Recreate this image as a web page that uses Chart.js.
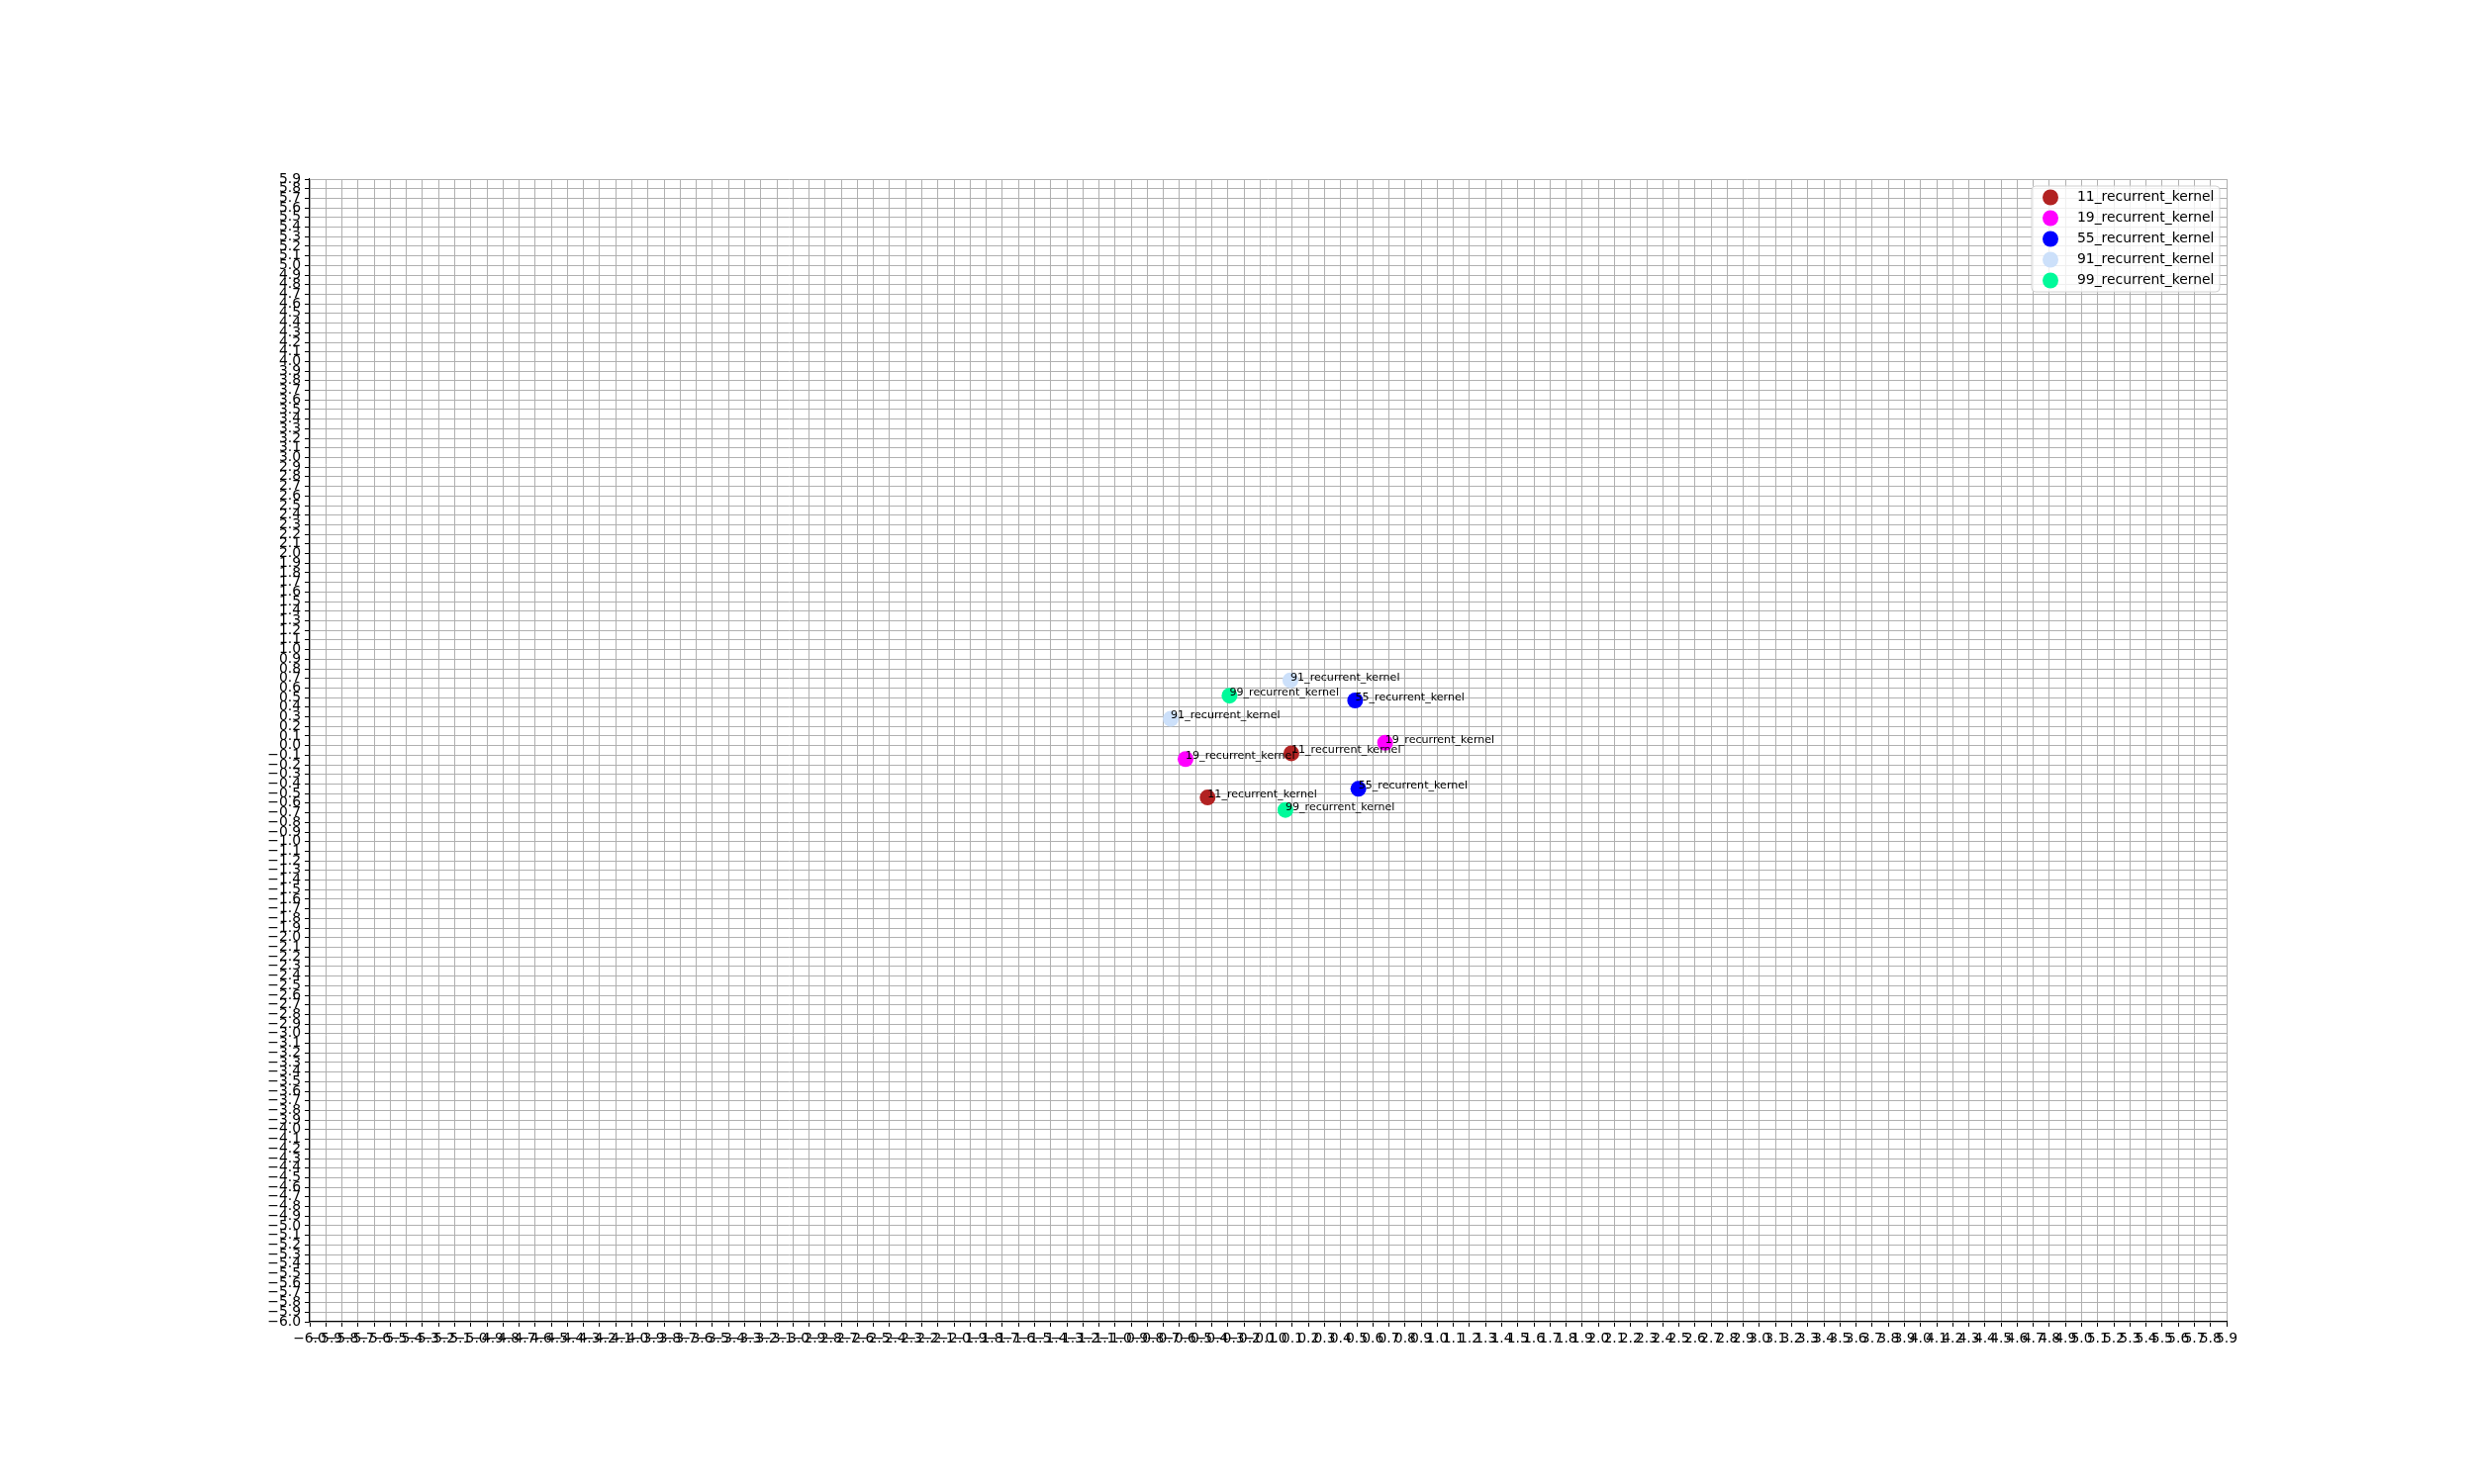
<!DOCTYPE html>
<html>
<head>
<meta charset="utf-8">
<script src="https://cdn.jsdelivr.net/npm/chart.js@4.4.1/dist/chart.umd.min.js"></script>
<style>
  html, body { margin: 0; padding: 0; background: #ffffff; }
  #wrap { width: 2500px; height: 1500px; }
</style>
</head>
<body>
<div id="wrap"><canvas id="c" width="2500" height="1500"></canvas></div>
<script>
// ---- data ----
const seriesNames = ['11_recurrent_kernel', '19_recurrent_kernel', '55_recurrent_kernel', '91_recurrent_kernel', '99_recurrent_kernel'];
const seriesColors = ['#b22222', '#ff00ff', '#0000ff', '#cce0fa', '#00fa9a'];
const xs11 = [0.094, -0.426];
const ys11 = [-0.08, -0.54];
const xs19 = [0.676, -0.563];
const ys19 = [0.03, -0.14];
const xs55 = [0.49, 0.51];
const ys55 = [0.47, -0.45];
const xs91 = [0.088, -0.655];
const ys91 = [0.68, 0.28];
const xs99 = [-0.29, 0.057];
const ys99 = [0.52, -0.67];
const axisMin = -6.0;
const axisMax = 5.9;
const axisStep = 0.1;

const seriesX = [xs11, xs19, xs55, xs91, xs99];
const seriesY = [ys11, ys19, ys55, ys91, ys99];

const datasets = seriesNames.map((name, i) => ({
  label: name,
  data: seriesX[i].map((x, j) => ({ x: x, y: seriesY[i][j] })),
  backgroundColor: seriesColors[i],
  borderColor: seriesColors[i],
  borderWidth: 0,
  pointRadius: 8,
  pointHoverRadius: 8,
  showLine: false
}));

const FONT = "'DejaVu Sans', sans-serif";

function fmtTick(v) {
  const r = Math.round(v * 10) / 10;
  if (Math.abs(r) < 1e-9) return '0.0';
  return (r < 0 ? '\u2212' : '') + Math.abs(r).toFixed(1);
}

const pointLabels = {
  id: 'pointLabels',
  afterDatasetsDraw(chart) {
    const ctx = chart.ctx;
    const xs = chart.scales.x, ys = chart.scales.y;
    ctx.save();
    ctx.font = "11.1px " + FONT;
    ctx.fillStyle = '#000000';
    ctx.textAlign = 'left';
    ctx.textBaseline = 'alphabetic';
    chart.data.datasets.forEach(ds => {
      ds.data.forEach(p => {
        ctx.fillText(ds.label, xs.getPixelForValue(p.x), ys.getPixelForValue(p.y));
      });
    });
    ctx.restore();
  }
};

const innerLegend = {
  id: 'innerLegend',
  afterDraw(chart) {
    const ctx = chart.ctx;
    const ca = chart.chartArea;
    const boxRight = ca.right - 7;
    const boxTop = ca.top + 7;
    const boxW = 190, rowH = 21;
    const n = chart.data.datasets.length;
    const boxH = n * rowH + 2;
    const boxLeft = boxRight - boxW;
    ctx.save();
    const r = 4;
    ctx.beginPath();
    ctx.moveTo(boxLeft + r, boxTop);
    ctx.lineTo(boxRight - r, boxTop);
    ctx.quadraticCurveTo(boxRight, boxTop, boxRight, boxTop + r);
    ctx.lineTo(boxRight, boxTop + boxH - r);
    ctx.quadraticCurveTo(boxRight, boxTop + boxH, boxRight - r, boxTop + boxH);
    ctx.lineTo(boxLeft + r, boxTop + boxH);
    ctx.quadraticCurveTo(boxLeft, boxTop + boxH, boxLeft, boxTop + boxH - r);
    ctx.lineTo(boxLeft, boxTop + r);
    ctx.quadraticCurveTo(boxLeft, boxTop, boxLeft + r, boxTop);
    ctx.closePath();
    ctx.fillStyle = 'rgba(255,255,255,0.8)';
    ctx.fill();
    ctx.strokeStyle = '#d0d0d0';
    ctx.lineWidth = 1;
    ctx.stroke();
    ctx.font = "13.9px " + FONT;
    ctx.textAlign = 'left';
    ctx.textBaseline = 'middle';
    chart.data.datasets.forEach((ds, i) => {
      const cy = boxTop + 11.5 + i * rowH;
      ctx.beginPath();
      ctx.arc(boxLeft + 19, cy, 8, 0, Math.PI * 2);
      ctx.fillStyle = ds.backgroundColor;
      ctx.fill();
      ctx.fillStyle = '#000000';
      ctx.fillText(ds.label, boxLeft + 46, cy);
    });
    ctx.restore();
  }
};

const axisCommon = {
  type: 'linear',
  min: axisMin,
  max: axisMax,
  grid: {
    color: '#b0b0b0',
    lineWidth: 1,
    tickColor: '#000000',
    tickLength: 5,
    drawTicks: true
  },
  border: { color: '#000000', width: 1.1 },
  ticks: {
    stepSize: axisStep,
    autoSkip: false,
    maxRotation: 0,
    minRotation: 0,
    padding: 4,
    color: '#000000',
    font: { family: FONT, size: 13.9 },
    callback: (v) => fmtTick(v)
  }
};

new Chart(document.getElementById('c'), {
  type: 'scatter',
  data: { datasets: datasets },
  options: {
    responsive: false,
    animation: false,
    devicePixelRatio: 1,
    layout: { padding: { left: 0, top: 181, right: 250, bottom: 0 } },
    plugins: {
      legend: { display: false },
      tooltip: { enabled: false },
      title: { display: false }
    },
    scales: {
      x: Object.assign({}, axisCommon, {
        position: 'bottom',
        afterFit: (s) => { s.height = 164; }
      }),
      y: Object.assign({}, axisCommon, {
        position: 'left',
        afterFit: (s) => { s.width = 313; }
      })
    }
  },
  plugins: [pointLabels, innerLegend]
});
</script>
</body>
</html>
